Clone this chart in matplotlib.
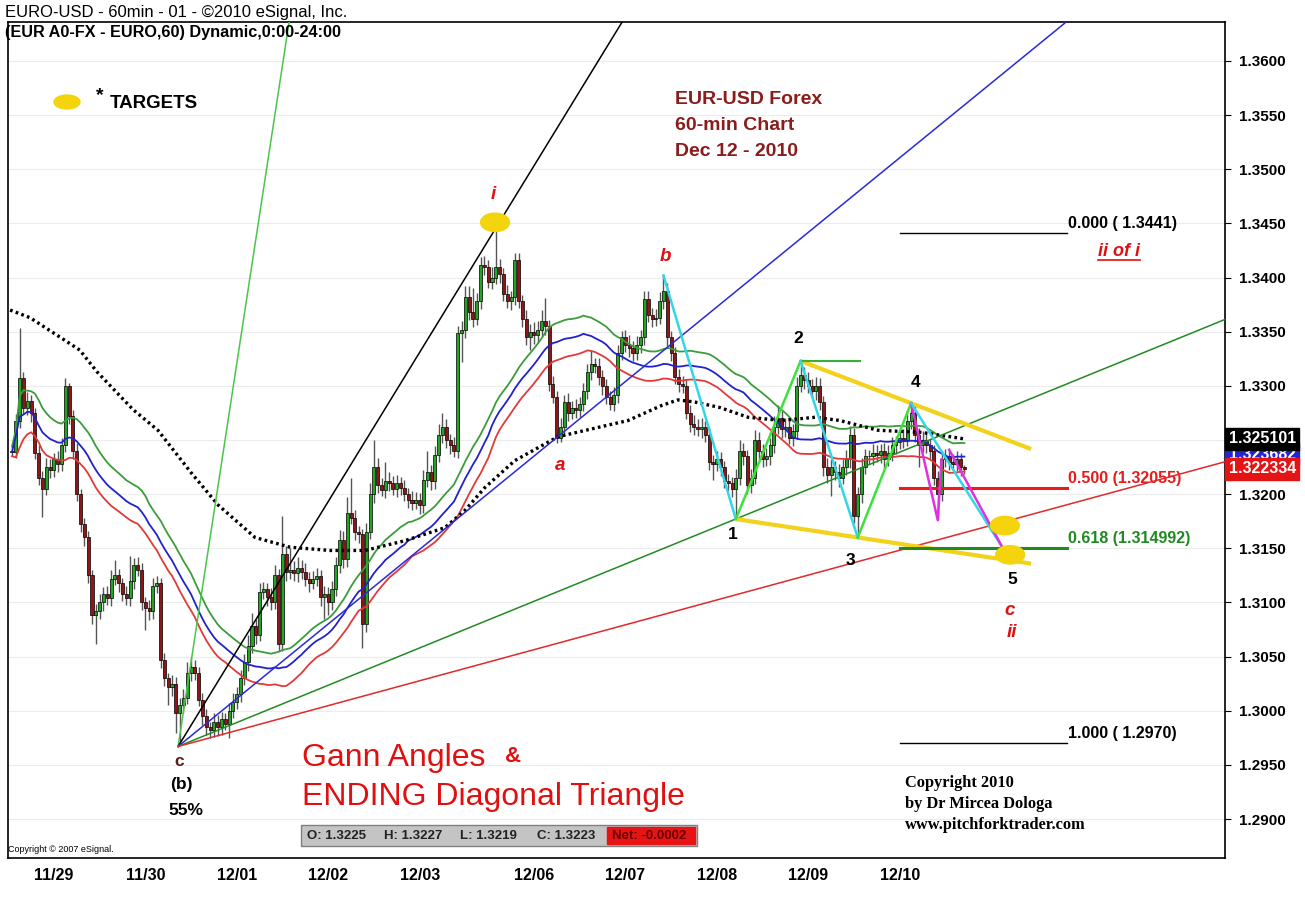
import numpy as np
import pandas as pd
import matplotlib
matplotlib.use('Agg')
import matplotlib.pyplot as plt
import matplotlib.transforms as mtransforms
from matplotlib.patches import Ellipse, Rectangle

plt.rcParams['font.family'] = ['Liberation Sans', 'DejaVu Sans']

# ---- hourly EUR/USD candles (open = previous close) ----
first_open = 1.3240
closes = [
    1.3239, 1.3268, 1.3307, 1.3280, 1.3286, 1.3275, 1.3238, 1.3215, 1.3205, 1.3225,
    1.3222, 1.3232, 1.3228, 1.3245, 1.3300, 1.3272, 1.3240, 1.3200, 1.3172, 1.3160,
    1.3125, 1.3088, 1.3092, 1.3100, 1.3108, 1.3104, 1.3122, 1.3125, 1.3118, 1.3108,
    1.3104, 1.3120, 1.3135, 1.3130, 1.3100, 1.3095, 1.3092, 1.3115, 1.3118, 1.3047,
    1.3030, 1.3022, 1.3025, 1.2998, 1.3005, 1.3012, 1.3035, 1.3040, 1.3035, 1.3010,
    1.2995, 1.2985, 1.2982, 1.2990, 1.2985, 1.2992, 1.2988, 1.3000, 1.3008, 1.3015,
    1.3030, 1.3045, 1.3060, 1.3078, 1.3070, 1.3110, 1.3112, 1.3105, 1.3100, 1.3125,
    1.3062, 1.3145, 1.3128, 1.3130, 1.3127, 1.3132, 1.3128, 1.3122, 1.3118, 1.3122,
    1.3124, 1.3105, 1.3108, 1.3100, 1.3112, 1.3135, 1.3158, 1.3140, 1.3183, 1.3178,
    1.3165, 1.3163, 1.3080, 1.3165, 1.3200, 1.3225, 1.3208, 1.3204, 1.3212, 1.3210,
    1.3205, 1.3210, 1.3206, 1.3200, 1.3195, 1.3192, 1.3195, 1.3190, 1.3213, 1.3220,
    1.3212, 1.3236, 1.3255, 1.3262, 1.3250, 1.3245, 1.3240, 1.3349, 1.3352, 1.3382,
    1.3368, 1.3362, 1.3378, 1.3412, 1.3410, 1.3396, 1.3400, 1.3410, 1.3403, 1.3385,
    1.3378, 1.3382, 1.3416, 1.3378, 1.3362, 1.3345, 1.3350, 1.3347, 1.3352, 1.3360,
    1.3355, 1.3302, 1.3290, 1.3252, 1.3262, 1.3285, 1.3275, 1.3280, 1.3278, 1.3283,
    1.3295, 1.3313, 1.3320, 1.3318, 1.3308, 1.3300, 1.3290, 1.3283, 1.3292, 1.3330,
    1.3345, 1.3338, 1.3335, 1.3330, 1.3338, 1.3345, 1.3380, 1.3365, 1.3362, 1.3363,
    1.3378, 1.3388, 1.3345, 1.3330, 1.3308, 1.3302, 1.3300, 1.3275, 1.3265, 1.3262,
    1.3260, 1.3262, 1.3255, 1.3230, 1.3228, 1.3232, 1.3225, 1.3212, 1.3210, 1.3205,
    1.3215, 1.3240, 1.3235, 1.3208, 1.3215, 1.3250, 1.3240, 1.3232, 1.3235, 1.3245,
    1.3262, 1.3270, 1.3260, 1.3262, 1.3252, 1.3258, 1.3300, 1.3310, 1.3305, 1.3300,
    1.3295, 1.3300, 1.3285, 1.3225, 1.3218, 1.3225, 1.3220, 1.3215, 1.3225, 1.3232,
    1.3255, 1.3180, 1.3200, 1.3225, 1.3235, 1.3235, 1.3238, 1.3236, 1.3240, 1.3232,
    1.3238, 1.3245, 1.3248, 1.3252, 1.3250, 1.3268, 1.3275, 1.3255, 1.3245, 1.3250,
    1.3245, 1.3240, 1.3215, 1.3200, 1.3232, 1.3235, 1.3230, 1.3228, 1.3232, 1.3225,
    1.3223,
]
# wick lengths beyond the body, in pips
upper_wick = [
    4, 6, 46, 6, 8, 6, 5, 7, 6, 8,
    7, 6, 8, 7, 7, 3, 6, 7, 5, 6,
    6, 5, 7, 8, 6, 7, 8, 14, 6, 5,
    7, 23, 6, 7, 6, 5, 7, 8, 6, 5,
    6, 5, 8, 6, 7, 8, 10, 10, 7, 5,
    6, 7, 5, 8, 6, 7, 6, 7, 8, 7,
    8, 7, 10, 12, 7, 8, 7, 6, 8, 10,
    6, 35, 7, 20, 8, 10, 7, 8, 6, 7,
    8, 6, 7, 6, 8, 7, 9, 8, 14, 32,
    7, 6, 5, 8, 10, 25, 8, 7, 18, 8,
    7, 8, 6, 7, 6, 8, 7, 6, 9, 20,
    7, 8, 10, 13, 7, 6, 8, 6, 8, 10,
    10, 22, 8, 7, 8, 6, 10, 34, 7, 6,
    8, 6, 7, 7, 6, 8, 7, 9, 8, 10,
    21, 6, 7, 5, 8, 7, 8, 6, 8, 7,
    8, 7, 13, 6, 8, 7, 6, 5, 7, 8,
    6, 7, 9, 6, 8, 7, 8, 8, 7, 8,
    9, 14, 7, 6, 6, 8, 7, 6, 7, 8,
    7, 8, 6, 7, 6, 8, 7, 6, 7, 6,
    8, 10, 7, 6, 8, 9, 7, 6, 8, 7,
    10, 12, 7, 8, 6, 7, 8, 13, 7, 8,
    6, 8, 7, 6, 8, 7, 6, 8, 7, 9,
    8, 6, 7, 8, 7, 6, 8, 7, 6, 7,
    7, 8, 6, 7, 8, 9, 9, 7, 6, 8,
    7, 6, 5, 6, 8, 7, 6, 7, 8, 6,
    2,
]
lower_wick = [
    4, 6, 7, 6, 7, 8, 6, 7, 26, 6,
    7, 6, 8, 7, 6, 7, 8, 6, 7, 8,
    7, 8, 26, 7, 8, 6, 7, 6, 8, 7,
    6, 7, 8, 6, 7, 20, 8, 7, 6, 8,
    7, 17, 8, 19, 28, 7, 6, 8, 7, 6,
    8, 7, 7, 6, 8, 7, 6, 13, 7, 6,
    7, 6, 8, 7, 8, 6, 7, 8, 7, 6,
    7, 7, 8, 6, 7, 8, 6, 7, 8, 6,
    7, 8, 20, 12, 7, 6, 8, 8, 7, 6,
    7, 8, 22, 7, 6, 8, 7, 6, 8, 7,
    6, 8, 7, 6, 8, 7, 6, 8, 7, 6,
    8, 7, 6, 8, 7, 8, 6, 7, 27, 8,
    7, 8, 6, 7, 8, 6, 7, 6, 8, 7,
    6, 8, 7, 6, 8, 7, 12, 8, 7, 6,
    8, 7, 6, 5, 4, 8, 7, 6, 8, 7,
    6, 7, 8, 6, 7, 8, 7, 5, 6, 8,
    6, 7, 8, 7, 6, 8, 7, 6, 8, 7,
    6, 7, 8, 7, 6, 8, 7, 6, 8, 7,
    6, 8, 7, 8, 15, 7, 8, 6, 7, 8,
    28, 7, 8, 8, 7, 6, 8, 7, 6, 8,
    7, 6, 8, 7, 6, 8, 7, 6, 8, 7,
    6, 8, 7, 8, 8, 20, 7, 8, 6, 7,
    8, 7, 20, 8, 6, 7, 8, 6, 7, 8,
    6, 7, 8, 6, 7, 6, 8, 7, 20, 6,
    7, 8, 7, 24, 6, 7, 8, 6, 7, 8,
    4,
]

day_labels = ['11/29', '11/30', '12/01', '12/02', '12/03', '12/06', '12/07', '12/08', '12/09', '12/10']
day_index = [11, 35, 59, 83, 107, 137, 161, 185, 209, 233]

# slow dotted moving average
slow_ma_idx = [-0.5, 4.7, 13.9, 17.8, 22.3, 31.8, 38.3, 47.2, 54.1, 63.8, 73.0, 83.5, 92.7, 103.1,
               113.6, 118.9, 124.1, 132.0, 143.3, 154.3, 161.7, 170.6, 174.8, 179.3, 185.8,
               193.2, 202.1, 210.8, 217.3, 227.3, 238.8, 250.0]
slow_ma_val = [1.3370, 1.3363, 1.3342, 1.3333, 1.3313, 1.3278, 1.3259, 1.3219, 1.3190, 1.3160,
               1.3151, 1.3148, 1.3148, 1.3157, 1.3169, 1.3185, 1.3206, 1.3231, 1.3253, 1.3262,
               1.3268, 1.3282, 1.3287, 1.3285, 1.3280, 1.3271, 1.3268, 1.3271, 1.3268, 1.3259,
               1.3257, 1.3251]
band_period = 34

# Gann fan from the (b)/c low
gann_origin_idx = 43.6
gann_origin_price = 1.2967
gann_unit = 0.000287          # 1x1 angle, price per bar
gann_mult = [8, 2, 1, 1 / 2, 1 / 3]
gann_colors = ['#4cc44c', 'black', '#2a2ad8', '#238a23', '#e02a2a']

# Fibonacci retracement of i
fib_levels = [1.3441, 1.32055, 1.314992, 1.2970]
fib_labels = ['0.000 ( 1.3441)', '0.500 (1.32055)', '0.618 (1.314992)', '1.000 ( 1.2970)']
fib_colors = ['black', '#e81c1c', '#1f8a1f', 'black']
fib_widths = [1, 2.2, 2.2, 1]
fib_start, fib_end = 233, 277

# wave pivots (bar index)
wave_b, wave_1, wave_2, wave_3, wave_4 = 171, 190, 207, 222, 236
low_5b = 243
wave5_idx, wave5_price = 260.1, 1.3150
triangle_end = 267.5
target_idx = [126.8, 260.6, 262.0]
target_price = [1.3451, 1.3171, 1.3144]

tag_values = [1.323682, 1.325101, 1.322334]
tag_colors = ['#2424d0', 'black', '#e41414']

# ---- derived candles ----
close = np.array(closes)
opn = np.r_[first_open, close[:-1]]
high = np.maximum(opn, close) + np.array(upper_wick) / 10000
low = np.minimum(opn, close) - np.array(lower_wick) / 10000
idx = np.arange(len(close))

W, H = 1305, 901
fig = plt.figure(figsize=(W / 100, H / 100), dpi=100)
ax = fig.add_axes([8 / W, 1 - 858 / H, 1217 / W, 836 / H])
ax.set_xlim(-1.05, 318.4)
ax.set_ylim(1.2864, 1.3636)

# grid
yt = np.arange(1.2900, 1.36001, 0.005)
for y in yt:
    ax.axhline(y, color='#ececec', lw=0.8, zorder=0)

# moving averages: highs / closes / lows
ma_h = pd.Series(high).rolling(band_period, min_periods=1).mean()
ma_c = pd.Series(close).rolling(band_period, min_periods=1).mean()
ma_l = pd.Series(low).rolling(band_period, min_periods=1).mean()
ax.plot(idx, ma_h, color='#3c9c3c', lw=1.3, zorder=4)
ax.plot(idx, ma_c, color='#2222cc', lw=1.3, zorder=4)
ax.plot(idx, ma_l, color='#e03a3a', lw=1.3, zorder=4)
ax.plot(slow_ma_idx, slow_ma_val, color='black', lw=2.4, linestyle=(0, (0.8, 1.0)), zorder=4)

# candles
up = close >= opn
ax.vlines(idx, low, high, color='#555555', lw=1, zorder=3)
body = np.maximum(np.abs(close - opn), 0.00003)
ax.bar(idx, body, bottom=np.minimum(opn, close), width=0.8,
       color=np.where(up, '#22a622', '#931414'), edgecolor='black', lw=0.5, zorder=3)

# Gann fan
xs = np.array([gann_origin_idx, 330])
for m, c in zip(gann_mult, gann_colors):
    ax.plot(xs, gann_origin_price + m * gann_unit * (xs - gann_origin_idx), color=c, lw=1.1, zorder=5)

# ending diagonal triangle (yellow)
def line_through(i0, p0, i1, p1, i_end):
    return [i0, i_end], [p0, p0 + (p1 - p0) * (i_end - i0) / (i1 - i0)]

xx, yy = line_through(wave_2, high[wave_2], wave_4, high[wave_4], triangle_end)
ax.plot(xx, yy, color='#f2d21a', lw=3, zorder=5, solid_capstyle='butt')
xx, yy = line_through(wave_1, low[wave_1], wave_3, low[wave_3], triangle_end)
ax.plot(xx, yy, color='#f2d21a', lw=3, zorder=5, solid_capstyle='butt')

# wave zigzags
cyan, lime, mag = '#33d6e6', '#3ee03e', '#e030e0'
ax.plot([wave_b, wave_1], [high[wave_b], low[wave_1]], color=cyan, lw=1.8, zorder=6)
ax.plot([wave_1, wave_2], [low[wave_1], high[wave_2]], color=lime, lw=1.8, zorder=6)
ax.plot([wave_2, wave_3 + 0.5], [high[wave_2], high[wave_2]], color='#38b038', lw=1.5, zorder=6)
ax.plot([wave_2, wave_3], [high[wave_2], low[wave_3]], color=cyan, lw=1.8, zorder=6)
ax.plot([wave_3, wave_4], [low[wave_3], high[wave_4]], color=lime, lw=1.8, zorder=6)
ax.plot([wave_4, low_5b, low_5b + 1], [high[wave_4], low[low_5b], close[low_5b + 1]], color=mag, lw=1.8, zorder=6)
ax.plot([wave_4, wave5_idx], [high[wave_4], wave5_price], color=cyan, lw=1.8, zorder=6)
ax.plot([low_5b + 3, wave5_idx], [high[low_5b + 3], wave5_price], color=mag, lw=1.8, zorder=6)

# Fibonacci lines
for lv, lab, c, lw in zip(fib_levels, fib_labels, fib_colors, fib_widths):
    ax.plot([fib_start, fib_end], [lv, lv], color=c, lw=lw, zorder=5)
    ax.annotate(lab, (fib_end, lv), xytext=(1, 2), textcoords='offset pixels',
                color=c, fontsize=11.5, fontweight='bold', ha='left', va='bottom')

# yellow targets
for ti, tp in zip(target_idx, target_price):
    ax.add_patch(Ellipse((ti, tp), 7.6, 0.0017, color='#f4d40c', zorder=7))

# wave labels
def wave_text(s, i, p, dx, dy, color, italic=False, size=12.5):
    ax.annotate(s, (i, p), xytext=(dx, dy), textcoords='offset pixels', ha='center', va='center',
                color=color, fontsize=size, fontweight='bold', style='italic' if italic else 'normal',
                zorder=8)

red = '#e01010'
wave_text('i', 127, high[127], -3, 35, red, True, 13.5)
wave_text('a', 143, low[143], 3, -22, red, True, 13.5)
wave_text('b', wave_b, high[wave_b], 2, 19, red, True, 13.5)
wave_text('1', wave_1, low[wave_1], -3, -15, 'black')
wave_text('2', wave_2, high[wave_2], -2, 22, 'black')
wave_text('3', wave_3, low[wave_3], -7, -23, 'black')
wave_text('4', wave_4, high[wave_4], 4, 21, 'black')
wave_text('5', wave5_idx, wave5_price, 9, -31, 'black')
wave_text('c', wave5_idx, wave5_price, 7, -62, red, True, 13.5)
wave_text('ii', wave5_idx, wave5_price, 9, -84, red, True, 13.5)
wave_text('c', 44, low[44], 0, -18, '#5a1a1a', False, 12.5)
wave_text('(b)', 44, low[44], 2, -41, 'black', False, 12.5)
wave_text('55%', 44, low[44], 6, -67, 'black', False, 12.5)

# right axis
ax.yaxis.tick_right()
ax.set_yticks(yt)
ax.set_yticklabels(['%.4f' % v for v in yt])
ax.tick_params(axis='y', length=4, pad=6, labelsize=11)
for t in ax.get_yticklabels():
    t.set_fontweight('bold')
ax.set_xticks(day_index)
ax.set_xticklabels(day_labels)
ax.tick_params(axis='x', length=0, pad=7, labelsize=11.5)
for t in ax.get_xticklabels():
    t.set_fontweight('bold')
for s in ax.spines.values():
    s.set_linewidth(1.2)

trans = mtransforms.blended_transform_factory(ax.transAxes, ax.transData)
for v, c in zip(tag_values, tag_colors):
    ax.text(1.003, v, '%.6f' % v, transform=trans, color='white', fontsize=11.5, fontweight='bold',
            va='center', ha='left', clip_on=False, zorder=10,
            bbox=dict(boxstyle='square,pad=0.22', fc=c, ec=c))

# ---- figure texts ----
def px(x, y):
    return x / W, 1 - y / H

fig.text(*px(5, 12), 'EURO-USD - 60min - 01 - \u00a92010 eSignal, Inc.', fontsize=12, va='center')
fig.text(*px(5, 33), '(EUR A0-FX - EURO,60) Dynamic,0:00-24:00', fontsize=11.7, fontweight='bold', va='center')

ax.add_patch(Ellipse(px(67, 102), 26 / W, 14 / H, transform=fig.transFigure, color='#f4d40c', zorder=7))
fig.text(*px(96, 96), '*', fontsize=14, fontweight='bold', va='center')
fig.text(*px(110, 103), 'TARGETS', fontsize=13.5, fontweight='bold', va='center')

dark_red = '#8a1c1c'
for k, s in enumerate(['EUR-USD Forex', '60-min Chart', 'Dec 12 - 2010']):
    fig.text(*px(675, 100 + 26 * k), s, fontsize=14, fontweight='bold', color=dark_red, va='center')

t_ii = fig.text(*px(1098, 252), 'ii of i', fontsize=13, fontweight='bold', style='italic', color=red, va='center')

fig.text(*px(302, 758), 'Gann Angles', fontsize=23, color=red, va='center')
fig.text(*px(505, 756), '&', fontsize=16, fontweight='bold', color=red, va='center')
fig.text(*px(302, 797), 'ENDING Diagonal Triangle', fontsize=23, color=red, va='center')

for k, s in enumerate(['Copyright 2010', 'by Dr Mircea Dologa', 'www.pitchforktrader.com']):
    fig.text(*px(905, 783 + 21 * k), s, fontsize=11.8, fontweight='bold', family='Liberation Serif', va='center')

fig.text(*px(8, 850), 'Copyright \u00a9 2007 eSignal.', fontsize=6.5, va='center')

# OHLC status bar
fig.patches.append(Rectangle(px(301, 846), 396 / W, 21 / H, transform=fig.transFigure,
                             fc='#c4c4c4', ec='#808080', lw=1))
fig.patches.append(Rectangle(px(607, 844), 88 / W, 17 / H, transform=fig.transFigure,
                             fc='#e61414', ec='#e61414'))
ohlc = [('O', opn[-1]), ('H', high[-1]), ('L', low[-1]), ('C', close[-1])]
for k, (n, v) in enumerate(ohlc):
    fig.text(*px(307 + 76.7 * k, 836), '%s: %.4f' % (n, v), fontsize=9.5, fontweight='bold', color='#222222', va='center')
fig.text(*px(612, 836), 'Net: %.4f' % (close[-1] - opn[-1]), fontsize=9.5, fontweight='bold', color='#6a0000', va='center')

# underline for "ii of i"
fig.canvas.draw()
bb = t_ii.get_window_extent().transformed(fig.transFigure.inverted())
fig.add_artist(plt.Line2D([bb.x0, bb.x1], [bb.y0 + 0.001, bb.y0 + 0.001], color=red, lw=1.2))

fig.savefig('out.png', dpi=100)
